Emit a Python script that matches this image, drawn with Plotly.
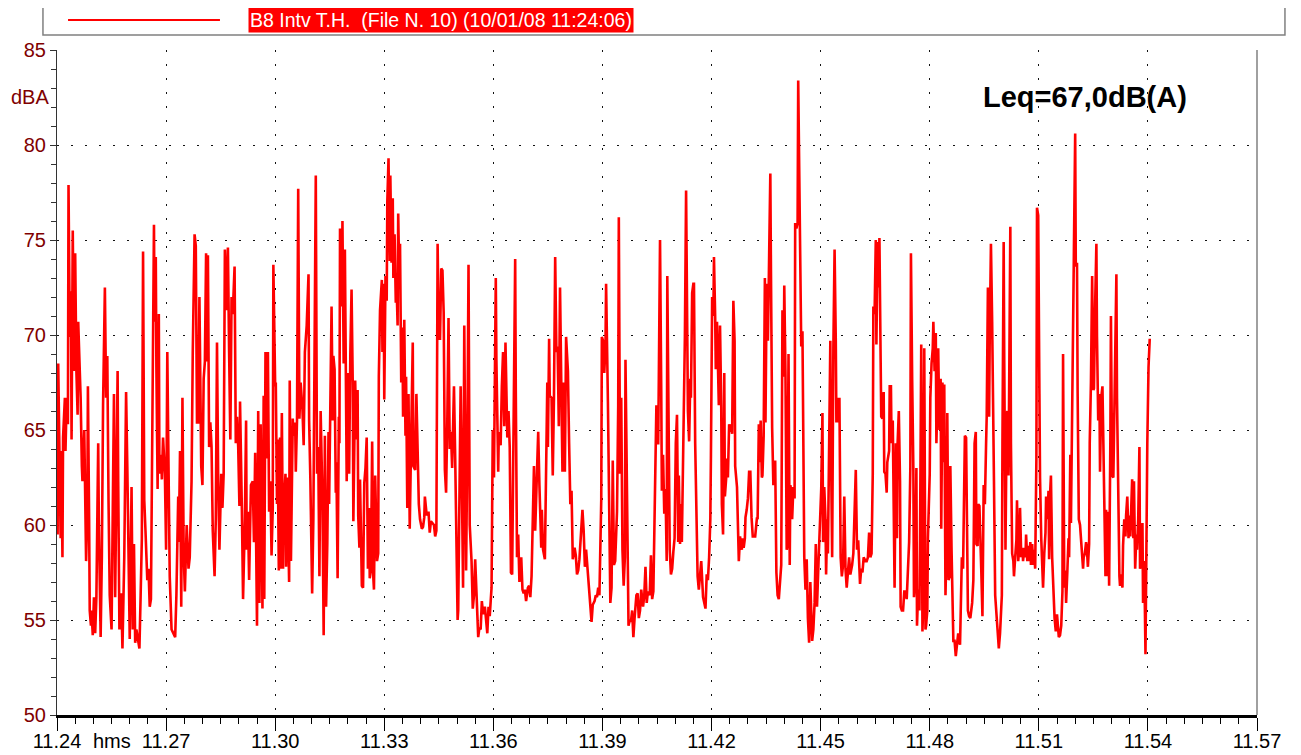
import pandas as pd
import plotly.graph_objects as go

# Niveau sonore B8 - relevé du 10/01/08, démarré à 11:24
start = pd.Timestamp("2008-01-10 11:24:00")
titre_fichier = "B8 Intv T.H.  (File N. 10) (10/01/08 11:24:06)"
leq_texte = "Leq=67,0dB(A)"
tick_labels_y = [50, 55, 60, 65, 70, 75, 80, 85]

# (secondes depuis 11:24:00, dBA) par tranche d'environ 5 minutes
seg_1 = [(0, 63.1), (1, 59.5), (2, 68.5), (4, 61.9), (6, 59.3), (7, 63.9), (9, 58.3), (10, 64.6), (13, 66.7), (14, 63.9),
         (16, 66.7), (18, 65.3), (19, 77.9), (21, 69.9), (23, 72.3), (24, 64.5), (26, 75.5), (28, 68.1), (30, 74.3), (32, 68.1),
         (34, 65.8), (35, 70.7), (37, 68.7), (39, 66.7), (41, 63.1), (42, 62.3), (45, 65.0), (46, 62.3), (48, 58.1), (50, 60.5),
         (51, 67.3), (53, 60.3), (54, 55.5), (56, 54.7), (57, 55.5), (59, 54.2), (61, 56.2), (63, 54.3), (65, 56.2), (68, 64.3),
         (69, 60.3), (72, 54.1), (74, 58.3), (76, 66.3), (79, 72.5), (81, 66.7), (83, 68.9), (85, 61.3), (87, 56.3), (90, 54.5),
         (92, 60.3), (94, 66.9), (96, 56.2), (100, 68.1), (101, 62.3), (103, 54.5), (106, 56.4), (108, 53.5), (111, 58.3), (114, 67.0),
         (116, 63.1), (118, 57.6), (120, 54.0), (123, 62.0), (125, 54.5), (127, 59.0), (129, 53.8), (131, 54.5), (134, 53.9), (136, 53.5),
         (138, 56.3), (140, 59.3), (142, 74.4), (144, 61.3), (146, 59.7), (149, 57.1), (151, 57.7), (153, 55.7), (155, 56.1), (157, 64.3),
         (160, 75.8), (161, 70.7), (163, 74.1), (164, 68.3), (166, 61.9), (168, 71.1), (169, 62.7), (172, 63.7), (173, 62.4), (175, 64.6),
         (178, 62.7), (180, 58.7), (182, 69.1), (184, 63.1), (186, 57.3), (189, 54.5), (192, 54.3), (195, 54.1), (197, 56.3), (200, 61.5),
         (201, 59.1), (203, 63.9), (205, 55.7), (207, 66.7), (209, 58.5), (211, 56.5), (214, 60.0), (217, 57.7), (219, 58.3), (222, 62.3),
         (224, 69.1), (227, 75.3), (229, 74.7), (231, 65.4), (233, 65.4), (235, 72.0), (238, 63.1), (240, 62.1), (242, 67.7), (244, 68.6),
         (246, 74.3), (248, 68.6), (249, 74.2), (251, 64.1), (253, 65.4), (255, 64.1), (257, 59.7), (260, 57.3), (262, 60.3), (264, 69.6),
         (266, 62.3), (268, 58.7), (271, 62.7), (273, 60.9), (275, 62.7), (277, 74.5), (279, 71.3), (282, 74.6), (284, 69.1), (286, 64.5),
         (288, 72.0), (290, 71.1), (293, 73.6), (295, 64.3), (297, 65.7), (299, 64.1), (301, 61.0)]

seg_2 = [(302, 66.5), (305, 60.9), (307, 56.1), (310, 60.3), (312, 65.5), (313, 58.7), (315, 60.7), (317, 57.1), (320, 62.1), (323, 62.3),
         (325, 59.1), (327, 63.8), (330, 54.7), (332, 66.0), (334, 55.9), (336, 65.3), (339, 55.6), (341, 66.8), (342, 56.1), (344, 69.1),
         (346, 63.5), (348, 69.1), (350, 60.7), (352, 62.3), (354, 58.4), (356, 60.9), (357, 73.7), (360, 67.3), (361, 67.5), (363, 61.1),
         (364, 64.5), (366, 57.6), (368, 64.6), (369, 57.7), (371, 65.9), (373, 57.7), (374, 60.7), (377, 62.7), (378, 57.8), (380, 62.5),
         (383, 57.0), (384, 67.6), (386, 58.1), (389, 65.6), (390, 64.7), (393, 65.4), (394, 62.8), (396, 65.5), (398, 77.7), (400, 65.6),
         (402, 67.5), (405, 66.1), (407, 64.2), (409, 69.1), (411, 70.3), (412, 70.5), (415, 73.2), (416, 65.5), (418, 62.5), (421, 56.4),
         (423, 60.3), (425, 72.3), (427, 78.4), (429, 62.7), (431, 64.1), (433, 57.3), (435, 66.0), (438, 61.3), (440, 54.2), (442, 64.7),
         (444, 55.7), (446, 59.0), (448, 64.9), (449, 61.1), (451, 65.6), (453, 71.5), (455, 65.5), (456, 68.9), (458, 68.2), (460, 61.7),
         (461, 63.3), (463, 57.2), (465, 65.7), (466, 64.3), (467, 75.6), (470, 71.5), (471, 76.0), (473, 68.5), (475, 74.5), (477, 68.3),
         (478, 62.3), (480, 68.0), (482, 62.7), (484, 69.0), (486, 72.4), (488, 67.4), (489, 60.2), (492, 67.6), (494, 64.5), (496, 67.1),
         (497, 60.5), (499, 58.8), (500, 62.4), (503, 56.8), (505, 56.7), (507, 62.2), (509, 63.0), (511, 64.6), (513, 57.7), (515, 60.9),
         (516, 57.2), (518, 57.6), (520, 64.4), (522, 57.2), (523, 56.6), (525, 62.6), (527, 58.3), (528, 58.1), (530, 58.5), (531, 67.8),
         (533, 71.3), (534, 71.7), (536, 72.9), (537, 69.1), (539, 72.7), (540, 66.6), (542, 73.1), (544, 71.8), (545, 77.0), (547, 79.3),
         (549, 73.9), (550, 78.4), (552, 73.8), (554, 77.2), (555, 73.0), (557, 75.3), (559, 71.7), (560, 73.0), (562, 70.5), (563, 76.4),
         (565, 72.5), (566, 74.8), (568, 67.5), (570, 70.4), (571, 65.7), (573, 70.8), (575, 64.7), (576, 67.8), (578, 60.9), (580, 66.9),
         (582, 59.8), (585, 65.8), (587, 69.6), (588, 63.1), (591, 62.9), (593, 66.9), (595, 63.1), (597, 61.1), (599, 60.3), (602, 59.8),
         (604, 59.9), (606, 60.4)]

seg_3 = [(607, 61.5), (610, 60.5), (613, 60.7), (615, 59.6), (617, 60.2), (619, 60.1), (622, 60.0), (624, 59.4), (626, 59.7), (628, 74.8),
         (630, 69.8), (632, 69.8), (634, 73.5), (636, 73.4), (638, 71.2), (640, 62.9), (642, 61.7), (644, 65.5), (646, 70.9), (648, 64.0),
         (650, 64.9), (652, 63.0), (655, 67.3), (657, 63.6), (659, 59.9), (661, 55.0), (662, 55.5), (664, 60.8), (666, 67.3), (668, 62.3),
         (670, 56.7), (672, 70.5), (674, 64.0), (675, 57.6), (677, 64.0), (679, 73.7), (681, 60.0), (684, 58.1), (686, 55.6), (688, 56.3),
         (690, 58.2), (692, 56.3), (695, 54.1), (697, 54.6), (699, 54.5), (701, 56.0), (703, 55.3), (706, 55.7), (708, 54.7), (710, 54.3),
         (712, 55.7), (714, 55.2), (717, 56.7), (719, 65.0), (721, 62.5), (722, 65.1), (724, 73.0), (725, 68.7), (728, 62.8), (729, 64.9),
         (732, 64.2), (734, 67.3), (736, 69.1), (738, 65.2), (740, 69.6), (743, 64.6), (745, 66.0), (747, 64.1), (749, 57.5), (751, 57.4),
         (754, 67.1), (756, 74.0), (757, 67.1), (759, 58.3), (761, 59.5), (763, 57.0), (766, 58.3), (768, 56.6), (770, 56.4), (772, 56.6),
         (774, 56.0), (777, 56.7), (779, 56.8), (781, 56.2), (783, 57.3), (785, 60.0), (787, 63.1), (789, 59.7), (791, 62.3), (794, 64.9),
         (796, 62.1), (799, 58.8), (800, 60.8), (802, 58.7), (805, 58.2), (807, 62.3), (809, 67.5), (810, 64.1), (812, 69.8), (813, 66.8),
         (816, 66.7), (818, 62.6), (820, 66.7), (822, 74.1), (824, 69.1), (826, 69.4), (828, 65.2), (830, 72.5), (832, 65.8), (834, 62.8),
         (836, 67.5), (838, 62.8), (840, 69.9), (843, 68.1), (845, 64.3), (847, 61.1), (849, 61.8), (851, 58.2), (854, 58.8), (856, 58.4),
         (858, 57.4), (860, 57.6), (862, 58.2), (865, 60.0), (867, 60.8), (869, 59.7), (871, 57.8), (873, 58.7), (876, 57.3), (878, 56.3),
         (880, 55.5), (882, 54.9), (884, 55.8), (887, 56.0), (889, 56.3), (891, 56.2), (893, 56.7), (895, 56.3), (898, 61.3), (899, 69.9),
         (901, 69.7), (903, 68.0), (905, 69.4), (906, 72.7), (909, 66.5), (911, 59.9)]

seg_4 = [(913, 55.9), (915, 56.7), (917, 63.4), (919, 57.9), (921, 58.1), (924, 60.7), (926, 66.3), (927, 76.2), (929, 62.7), (931, 66.7),
         (933, 58.7), (935, 56.8), (937, 58.3), (938, 68.7), (941, 58.3), (943, 54.7), (945, 55.0), (947, 54.9), (949, 55.5), (951, 54.1),
         (953, 55.1), (956, 56.3), (958, 56.4), (960, 55.1), (962, 55.5), (964, 56.6), (967, 55.7), (969, 56.3), (971, 57.8), (973, 55.9),
         (975, 56.5), (978, 56.3), (980, 58.4), (982, 56.1), (984, 56.5), (986, 60.3), (989, 66.3), (990, 64.3), (992, 64.3), (993, 67.7),
         (995, 75.0), (997, 67.1), (998, 61.8), (1000, 63.7), (1002, 60.6), (1004, 61.9), (1006, 58.1), (1007, 73.1), (1009, 64.3), (1011, 58.7),
         (1013, 57.4), (1015, 57.7), (1017, 58.6), (1019, 59.3), (1021, 64.3), (1023, 65.8), (1025, 59.1), (1026, 62.6), (1028, 59.0), (1030, 61.1),
         (1031, 59.1), (1033, 63.3), (1035, 69.5), (1036, 69.9), (1038, 77.6), (1040, 68.5), (1041, 66.0), (1043, 64.4), (1045, 67.7), (1046, 66.7),
         (1048, 72.2), (1050, 72.7), (1051, 72.7), (1053, 64.3), (1055, 60.1), (1057, 57.3), (1059, 56.6), (1061, 57.4), (1063, 58.1), (1066, 56.2),
         (1068, 55.9), (1070, 55.6), (1072, 57.4), (1074, 57.1), (1076, 58.3), (1078, 60.3), (1079, 63.7), (1081, 72.0), (1083, 71.0), (1084, 74.1),
         (1086, 70.9), (1087, 68.2), (1089, 70.7), (1091, 66.3), (1092, 66.3), (1094, 70.5), (1096, 66.2), (1097, 61.1), (1099, 59.5), (1101, 68.0),
         (1102, 61.5), (1104, 62.4), (1106, 63.5), (1107, 62.5), (1109, 65.3), (1111, 64.9), (1112, 65.3), (1114, 64.8), (1116, 71.8), (1118, 69.7),
         (1119, 63.1), (1122, 62.0), (1123, 59.8), (1125, 58.1), (1127, 59.4), (1128, 59.1), (1130, 58.7), (1131, 59.3), (1133, 58.8), (1135, 59.3),
         (1136, 60.4), (1138, 60.8), (1140, 61.4), (1142, 62.8), (1144, 62.8), (1146, 60.4), (1148, 59.4), (1150, 59.4), (1152, 59.4), (1155, 60.4),
         (1156, 60.3), (1158, 65.3), (1160, 63.3), (1161, 65.5), (1163, 62.5), (1164, 62.6), (1166, 64.7), (1168, 73.0), (1169, 65.4), (1171, 72.7),
         (1173, 69.7), (1175, 74.0), (1177, 78.5), (1178, 73.5), (1180, 65.1), (1182, 62.1), (1184, 63.3), (1185, 63.4), (1187, 57.5), (1189, 56.3),
         (1191, 56.1), (1193, 57.2), (1195, 57.9), (1197, 71.3), (1199, 67.8), (1200, 72.6), (1202, 67.9), (1204, 58.7), (1205, 58.9), (1207, 69.0),
         (1209, 57.9), (1210, 62.1), (1212, 61.7), (1213, 60.3), (1215, 62.0), (1217, 61.4), (1218, 75.9), (1220, 75.6), (1222, 75.9), (1223, 83.4)]

seg_5 = [(1226, 74.1), (1228, 69.4), (1230, 70.2), (1231, 64.3), (1233, 58.3), (1235, 56.6), (1237, 58.2), (1239, 55.1), (1241, 53.8), (1243, 57.0),
         (1246, 53.9), (1248, 54.5), (1250, 55.9), (1252, 59.0), (1254, 55.7), (1257, 58.5), (1259, 60.9), (1261, 61.9), (1263, 65.9), (1264, 59.1),
         (1266, 62.0), (1268, 60.3), (1269, 57.4), (1271, 60.3), (1272, 58.5), (1274, 64.3), (1276, 69.7), (1277, 64.3), (1279, 58.3), (1281, 69.3),
         (1283, 74.5), (1285, 69.7), (1286, 65.4), (1288, 66.7), (1290, 65.4), (1291, 66.7), (1293, 58.3), (1295, 57.3), (1297, 57.9), (1299, 61.5),
         (1301, 57.7), (1303, 56.7), (1305, 57.5), (1307, 58.3), (1309, 57.4), (1312, 57.9), (1314, 58.5), (1316, 61.5), (1318, 62.9), (1320, 58.7),
         (1322, 59.2), (1325, 56.9), (1327, 57.7), (1329, 57.5), (1331, 58.3), (1334, 58.1), (1336, 58.1), (1338, 58.3), (1340, 59.6), (1342, 58.3),
         (1344, 58.5), (1346, 62.7), (1347, 71.5), (1349, 71.1), (1351, 75.0), (1352, 69.5), (1354, 74.9), (1355, 72.5), (1357, 75.1), (1359, 68.7),
         (1360, 65.7), (1362, 65.6), (1364, 67.0), (1365, 62.8), (1367, 62.7), (1369, 61.7), (1370, 63.3), (1373, 63.9), (1374, 67.3), (1376, 67.3),
         (1377, 64.3), (1379, 65.5), (1381, 60.3), (1382, 56.7), (1384, 64.3), (1386, 59.3), (1387, 64.3), (1389, 66.0), (1391, 62.3), (1392, 55.7),
         (1394, 55.5), (1396, 55.5), (1398, 56.5), (1400, 56.5), (1402, 56.1), (1404, 57.8), (1406, 59.1), (1408, 63.0), (1409, 74.3), (1411, 67.7),
         (1413, 62.9), (1414, 56.2), (1416, 57.1), (1418, 63.0), (1419, 54.7), (1421, 56.6), (1423, 55.5), (1424, 59.3), (1426, 69.5), (1428, 54.4),
         (1429, 55.5), (1431, 69.3), (1433, 54.5), (1434, 54.7), (1436, 55.5), (1437, 59.3), (1440, 62.7), (1441, 66.7), (1443, 68.5), (1445, 69.3),
         (1446, 70.7), (1448, 68.1), (1450, 70.1), (1451, 64.3), (1453, 67.1), (1454, 69.3), (1456, 65.0), (1458, 67.7), (1459, 59.8), (1461, 67.5),
         (1463, 63.3), (1464, 67.4), (1466, 56.3), (1468, 59.3), (1469, 65.9), (1471, 57.1), (1473, 57.3), (1474, 63.1), (1476, 58.7), (1478, 55.1),
         (1479, 53.9), (1481, 53.9), (1483, 53.1), (1485, 53.7), (1487, 54.3), (1490, 53.7), (1491, 55.3), (1493, 58.3), (1495, 57.7), (1497, 61.7),
         (1498, 64.7), (1500, 64.6), (1502, 57.7), (1503, 55.5), (1505, 55.2), (1507, 55.1), (1510, 55.9), (1512, 57.1), (1514, 64.3), (1516, 64.9),
         (1517, 59.0), (1519, 58.9), (1520, 61.1), (1522, 61.0)]

seg_6 = [(1525, 57.7), (1527, 55.2), (1529, 62.1), (1531, 61.1), (1533, 64.3), (1534, 65.7), (1536, 72.5), (1538, 65.7), (1539, 69.9), (1541, 74.8),
         (1543, 70.7), (1544, 68.5), (1546, 62.3), (1548, 56.3), (1550, 55.3), (1552, 54.5), (1554, 53.5), (1556, 54.3), (1559, 56.3), (1560, 64.3),
         (1562, 74.9), (1563, 68.5), (1565, 58.7), (1567, 65.7), (1568, 66.0), (1570, 62.6), (1572, 72.5), (1573, 75.7), (1574, 64.3), (1576, 58.5),
         (1578, 58.1), (1579, 57.3), (1581, 58.3), (1583, 59.2), (1584, 61.3), (1586, 58.1), (1588, 58.9), (1589, 60.9), (1591, 58.3), (1593, 58.8),
         (1594, 58.1), (1596, 58.8), (1598, 58.3), (1599, 59.5), (1601, 58.1), (1603, 58.9), (1604, 58.1), (1606, 59.1), (1607, 57.9), (1609, 59.0),
         (1611, 57.9), (1612, 58.7), (1614, 57.7), (1616, 63.5), (1617, 76.7), (1619, 76.3), (1621, 66.9), (1622, 62.5), (1624, 59.3), (1626, 57.5),
         (1627, 56.7), (1629, 58.5), (1631, 59.6), (1632, 61.5), (1634, 60.3), (1636, 61.8), (1637, 58.2), (1639, 61.9), (1640, 62.6), (1642, 58.3),
         (1644, 56.3), (1646, 55.1), (1648, 54.4), (1650, 55.3), (1653, 54.1), (1655, 54.2), (1657, 54.7), (1659, 56.5), (1660, 69.0), (1662, 56.7),
         (1664, 57.6), (1665, 55.9), (1667, 57.5), (1669, 59.3), (1670, 58.3), (1672, 63.7), (1673, 60.1), (1675, 66.3), (1677, 70.7), (1678, 77.5),
         (1680, 80.6), (1681, 73.6), (1683, 73.8), (1684, 67.1), (1686, 60.3), (1688, 60.0), (1689, 59.4), (1691, 58.3), (1693, 57.7), (1694, 58.3),
         (1696, 58.5), (1698, 59.1), (1699, 58.9), (1701, 57.8), (1703, 59.0), (1704, 64.3), (1706, 67.5), (1708, 73.1), (1710, 67.1), (1711, 67.2),
         (1713, 71.7), (1715, 74.8), (1716, 69.9), (1718, 65.5), (1720, 66.9), (1721, 62.8), (1723, 66.7), (1725, 67.3), (1726, 65.3), (1728, 60.5),
         (1730, 57.3), (1731, 60.8), (1733, 57.3), (1735, 60.7), (1736, 56.8), (1738, 64.3), (1739, 71.0), (1741, 62.6), (1743, 62.5), (1744, 64.6),
         (1746, 68.3), (1748, 73.2), (1749, 66.7), (1751, 60.3), (1753, 57.3), (1754, 56.8), (1756, 57.4), (1758, 56.7), (1759, 58.9), (1761, 60.3),
         (1763, 59.4), (1764, 60.5), (1766, 61.5), (1768, 59.3), (1769, 60.5), (1771, 59.4), (1772, 60.3), (1774, 62.4), (1776, 59.3), (1777, 62.3),
         (1779, 57.7), (1781, 59.5), (1782, 58.7), (1784, 60.3), (1786, 64.1), (1787, 57.7), (1789, 58.1), (1791, 60.1), (1792, 55.9), (1794, 58.1),
         (1796, 53.2), (1797, 59.3), (1799, 64.3), (1801, 68.3), (1803, 69.8)]

points = seg_1 + seg_2 + seg_3 + seg_4 + seg_5 + seg_6
secondes = [p[0] for p in points]
niveaux = [p[1] for p in points]
temps = start + pd.to_timedelta(secondes, unit="s")

POLICE = "Liberation Sans, Arial, sans-serif"
ROUGE = "#ff0000"
BORDEAUX = "#800000"

fig = go.Figure()
fig.add_trace(go.Scatter(x=temps, y=niveaux, mode="lines", name=titre_fichier,
                         line=dict(color=ROUGE, width=2.6), showlegend=False))

# La page HTML ajoute 8 px de marge : la figure est réduite d'autant
fig.update_layout(
    width=1293, height=747, autosize=False,
    margin=dict(l=49, r=44, t=42, b=40, autoexpand=False),
    paper_bgcolor="white", plot_bgcolor="white",
    font=dict(family=POLICE, size=20, color="black"),
)

fig.update_xaxes(
    type="date", automargin=False,
    range=[start, start + pd.Timedelta(minutes=33)],
    tick0=start, dtick=180000, tickformat="%H.%M",
    ticks="outside", ticklen=13, tickwidth=1, tickcolor="black",
    ticklabelstandoff=-7,
    minor=dict(dtick=30000, ticks="outside", ticklen=6, tickwidth=1, tickcolor="black", showgrid=False),
    showgrid=True, gridcolor="#111111", gridwidth=1, griddash="2px,12px",
    showline=True, linewidth=2.5, linecolor="black", zeroline=False,
    tickfont=dict(family=POLICE, size=20, color="black"),
)

fig.update_yaxes(
    automargin=False,
    range=[50, 85], tickvals=tick_labels_y,
    ticks="outside", ticklen=6, tickwidth=1, tickcolor="#333333",
    minor=dict(dtick=1, ticks="outside", ticklen=5, tickwidth=1, tickcolor="#333333", showgrid=False),
    showgrid=True, gridcolor="#111111", gridwidth=1, griddash="2px,12px",
    showline=True, linewidth=1, linecolor="#333333", zeroline=False,
    tickfont=dict(family=POLICE, size=20, color=BORDEAUX),
)

# Bord droit du cadre
fig.add_shape(type="line", xref="paper", yref="paper", x0=1, x1=1, y0=0, y1=1,
              line=dict(color="#808080", width=1.5))

# Cartouche de légende (cadre, trait rouge, texte sur fond rouge)
fig.add_shape(type="rect", xref="paper", yref="paper", x0=-0.0117, x1=1.0233, y0=1.0226, y1=1.0662,
              line=dict(color="#808080", width=1.5), fillcolor="white")
fig.add_shape(type="line", xref="paper", yref="paper", x0=0.0092, x1=0.1358, y0=1.0451, y1=1.0451,
              line=dict(color=ROUGE, width=2))
fig.add_annotation(text=titre_fichier, xref="paper", yref="paper", x=0.159, y=1.0451,
                   xanchor="left", yanchor="middle", showarrow=False, bgcolor=ROUGE, borderpad=1,
                   font=dict(family=POLICE, size=19.5, color="white"))

# Unités et Leq
fig.add_annotation(text="dBA", xref="paper", yref="paper", x=-0.0225, y=0.929,
                   xanchor="center", yanchor="middle", showarrow=False,
                   font=dict(family=POLICE, size=20, color=BORDEAUX))
fig.add_annotation(text="hms", xref="paper", yref="paper", x=0.0458, y=-0.039,
                   xanchor="center", yanchor="middle", showarrow=False,
                   font=dict(family=POLICE, size=20, color="black"))
fig.add_annotation(text="<b>" + leq_texte + "</b>", xref="paper", yref="paper", x=0.8567, y=0.929,
                   xanchor="center", yanchor="middle", showarrow=False,
                   font=dict(family=POLICE, size=29, color="black"))

fig.write_html("out.html")
